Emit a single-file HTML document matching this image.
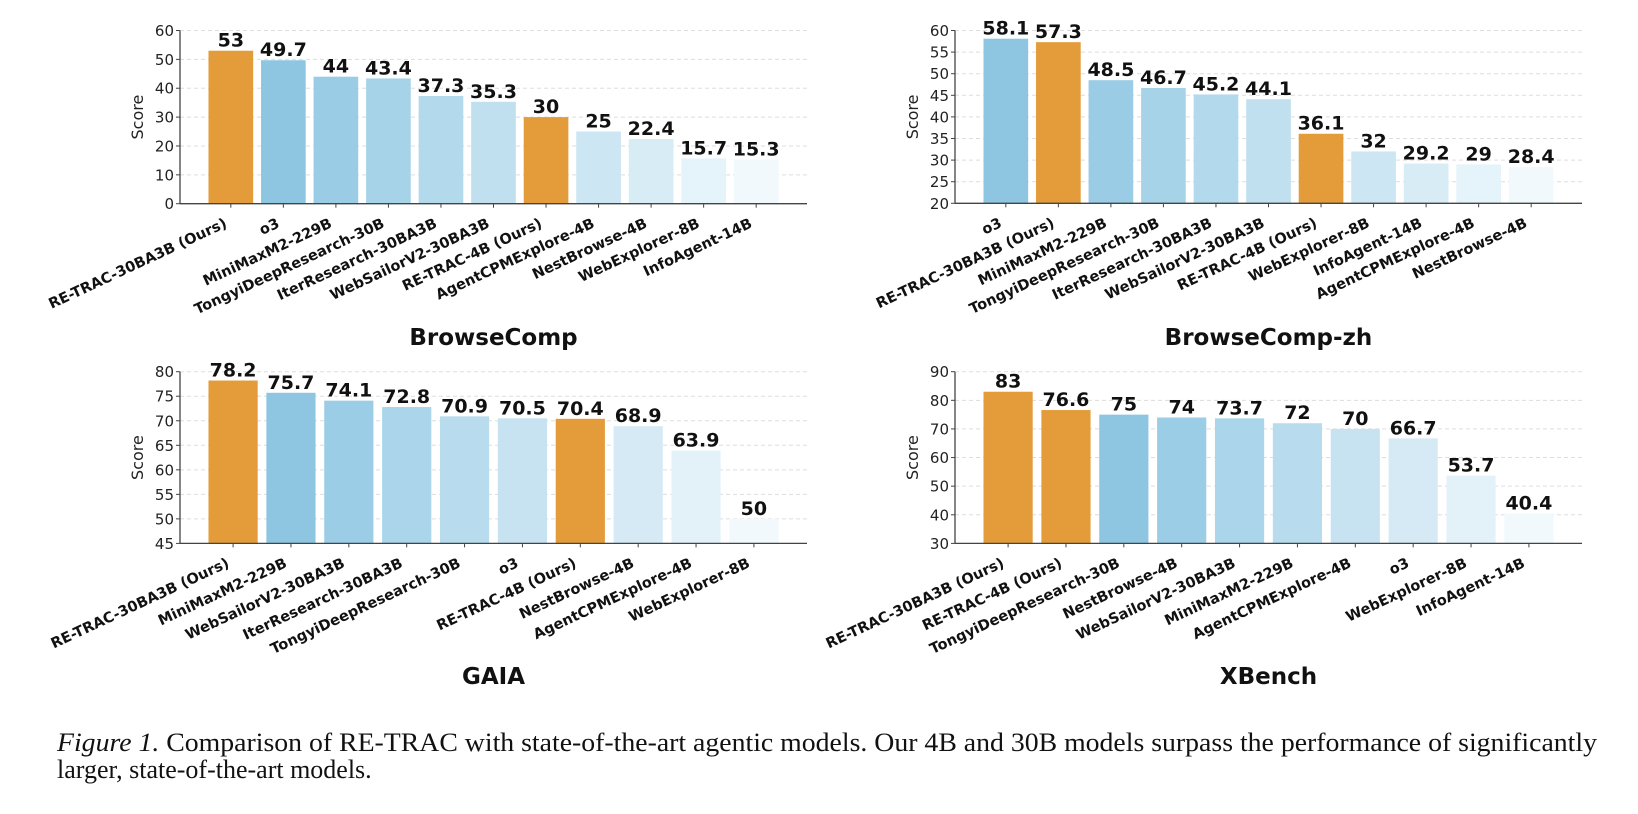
<!DOCTYPE html>
<html><head><meta charset="utf-8"><style>
body{margin:0;background:#fff;width:1638px;height:814px;overflow:hidden}
svg{display:block}
.tk{font-family:"DejaVu Sans",sans-serif;font-size:15px;fill:#222}
.xl{font-family:"DejaVu Sans",sans-serif;font-size:14.5px;font-weight:bold;fill:#111}
.vl{font-family:"DejaVu Sans",sans-serif;font-size:19px;font-weight:bold;fill:#111}
.tt{font-family:"DejaVu Sans",sans-serif;font-size:23px;font-weight:bold;fill:#111}
.yl{font-family:"DejaVu Sans",sans-serif;font-size:16px;fill:#222}
.cap{font-family:"Liberation Serif",serif;font-size:26px;fill:#111}
</style></head><body>
<svg id="fig" width="1638" height="814" xmlns="http://www.w3.org/2000/svg">
<text class="cap" x="57" y="751" textLength="1540" lengthAdjust="spacingAndGlyphs"><tspan font-style="italic">Figure 1.</tspan> Comparison of RE-TRAC with state-of-the-art agentic models. Our 4B and 30B models surpass the performance of significantly</text>
<text class="cap" x="57" y="778">larger, state-of-the-art models.</text>
</svg>
<script>
const bcCats=["RE-TRAC-30BA3B (Ours)","o3","MiniMaxM2-229B","TongyiDeepResearch-30B","IterResearch-30BA3B","WebSailorV2-30BA3B","RE-TRAC-4B (Ours)","AgentCPMExplore-4B","NestBrowse-4B","WebExplorer-8B","InfoAgent-14B"];
const bcVals=[53,49.7,44,43.4,37.3,35.3,30,25,22.4,15.7,15.3];
const bcTicks=[0,10,20,30,40,50,60];
const zhCats=["o3","RE-TRAC-30BA3B (Ours)","MiniMaxM2-229B","TongyiDeepResearch-30B","IterResearch-30BA3B","WebSailorV2-30BA3B","RE-TRAC-4B (Ours)","WebExplorer-8B","InfoAgent-14B","AgentCPMExplore-4B","NestBrowse-4B"];
const zhVals=[58.1,57.3,48.5,46.7,45.2,44.1,36.1,32,29.2,29,28.4];
const zhTicks=[20,25,30,35,40,45,50,55,60];
const gaCats=["RE-TRAC-30BA3B (Ours)","MiniMaxM2-229B","WebSailorV2-30BA3B","IterResearch-30BA3B","TongyiDeepResearch-30B","o3","RE-TRAC-4B (Ours)","NestBrowse-4B","AgentCPMExplore-4B","WebExplorer-8B"];
const gaVals=[78.2,75.7,74.1,72.8,70.9,70.5,70.4,68.9,63.9,50];
const gaTicks=[45,50,55,60,65,70,75,80];
const xbCats=["RE-TRAC-30BA3B (Ours)","RE-TRAC-4B (Ours)","TongyiDeepResearch-30B","NestBrowse-4B","WebSailorV2-30BA3B","MiniMaxM2-229B","AgentCPMExplore-4B","o3","WebExplorer-8B","InfoAgent-14B"];
const xbVals=[83,76.6,75,74,73.7,72,70,66.7,53.7,40.4];
const xbTicks=[30,40,50,60,70,80,90];

const NS="http://www.w3.org/2000/svg";
const svg=document.getElementById('fig');
function mk(tag,attrs,parent,txt){const e=document.createElementNS(NS,tag);for(const k in attrs)e.setAttribute(k,attrs[k]);if(txt!==undefined)e.textContent=txt;(parent||svg).appendChild(e);return e;}
function lerp(a,b,t){return Math.round(a+(b-a)*t);}
function blue(t){const c0=[142,198,226],c1=[241,249,253];return `rgb(${lerp(c0[0],c1[0],t)},${lerp(c0[1],c1[1],t)},${lerp(c0[2],c1[2],t)})`;}

function chart(key,cats,vals,ticks,title,L,R,T,B,titleY){
  const g=mk('g',{});
  
  
  const ymin=ticks[0],ymax=ticks[ticks.length-1];
  const y=v=>B-(v-ymin)/(ymax-ymin)*(B-T);
  const n=cats.length,bw=0.85,m=(n-1+bw)*0.05+bw/2;
  const step=(R-L)/(n-1+2*m);
  const x=i=>L+(i+m)*step;
  ticks.forEach(t=>{
    const gl=mk('line',{x1:L,x2:R,y1:y(t),y2:y(t),stroke:'#ddd','stroke-width':1,'stroke-dasharray':'4,3'},g);
    
    
    mk('line',{x1:L-4,x2:L,y1:y(t),y2:y(t),stroke:'#444','stroke-width':1},g);
    const tl=mk('text',{class:'tk',x:L-6,y:y(t)+5.5,'text-anchor':'end'},g,String(t));
    
    
  });
  let bi=0;const nb=cats.filter(c=>!c.includes('Ours')).length;
  cats.forEach((c,i)=>{
    const ours=c.includes('Ours');
    const fill=ours?'#E49B3A':blue(nb>1?bi/(nb-1):0);
    if(!ours)bi++;
    const cx=x(i),w=bw*step;
    const r=mk('rect',{x:cx-w/2,y:y(vals[i]),width:w,height:B-y(vals[i]),fill:fill},g);
    
    
    const vt=mk('text',{class:'vl',x:cx,y:y(vals[i])-4,'text-anchor':'middle'},g,String(vals[i]));
    
    
    mk('line',{x1:cx,x2:cx,y1:B,y2:B+4,stroke:'#444','stroke-width':1},g);
    const xl=mk('text',{class:'xl','text-anchor':'end',transform:`translate(${cx-3},${B+23}) rotate(-25)`},g,c);
    
    
  });
  mk('line',{x1:L,x2:L,y1:T,y2:B,stroke:'#444','stroke-width':1.3},g);
  mk('line',{x1:L,x2:R,y1:B,y2:B,stroke:'#444','stroke-width':1.3},g);
  const yl=mk('text',{class:'yl','text-anchor':'middle',transform:`translate(${L-37},${(T+B)/2}) rotate(-90)`},g,'Score');
  
  
  const tt=mk('text',{class:'tt',x:(L+R)/2,y:titleY,'text-anchor':'middle'},g,title);
  
  
}
chart('browsecomp',bcCats,bcVals,bcTicks,'BrowseComp',180,807,30.5,203.7,345);
chart('browsecomp-zh',zhCats,zhVals,zhTicks,'BrowseComp-zh',955,1582,30.5,203.3,345);
chart('gaia',gaCats,gaVals,gaTicks,'GAIA',180,807,371.7,543.4,684);
chart('xbench',xbCats,xbVals,xbTicks,'XBench',955,1582,371.7,543.4,684);
</script>
</body></html>
